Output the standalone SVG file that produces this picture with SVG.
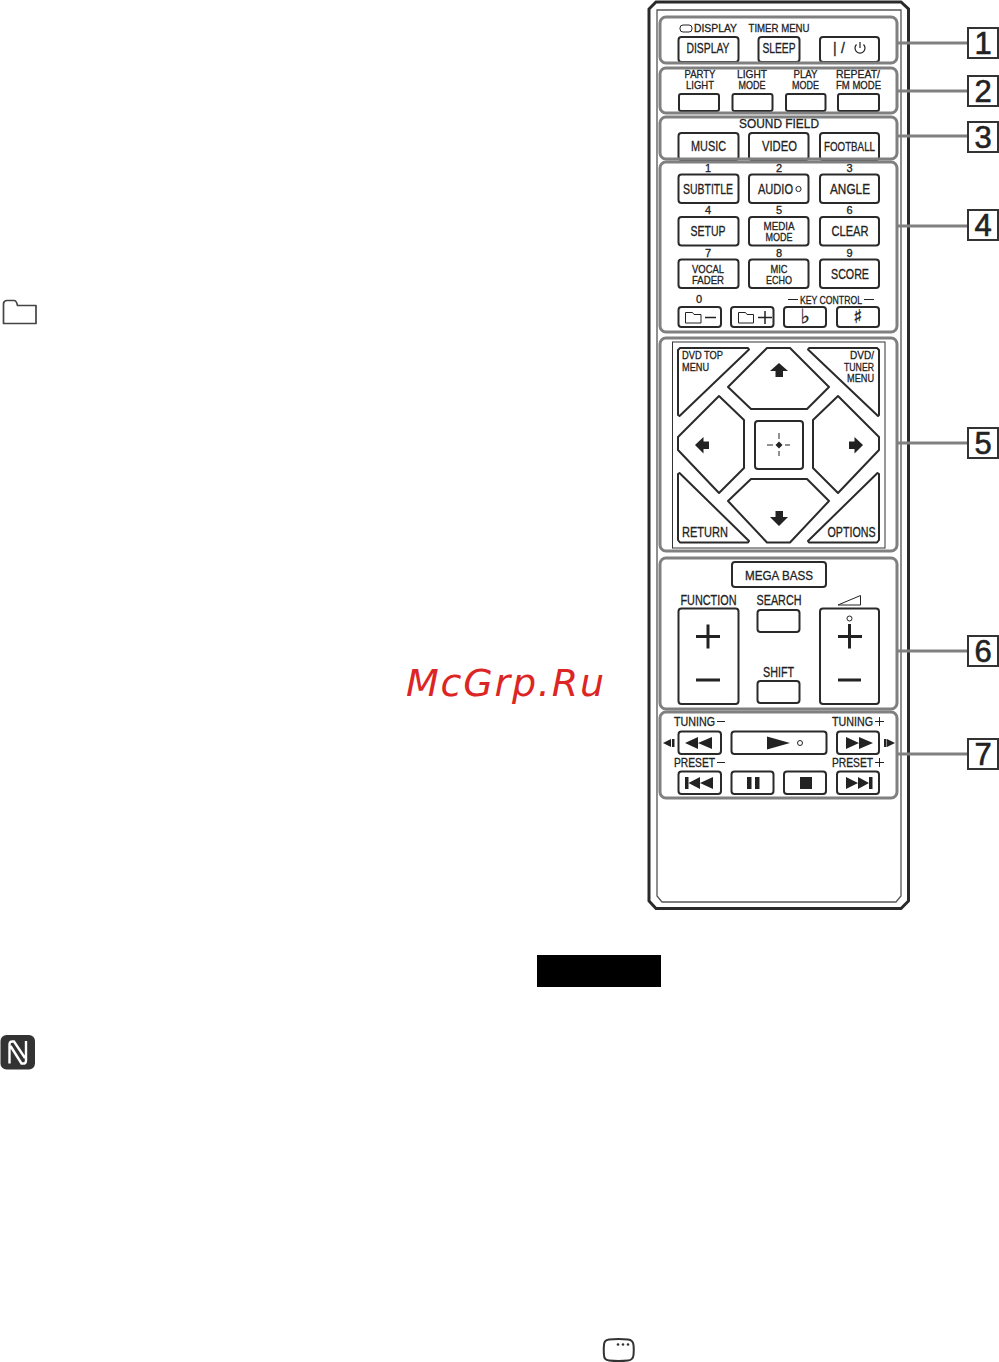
<svg xmlns="http://www.w3.org/2000/svg" width="999" height="1362" viewBox="0 0 999 1362">
<style>
text{font-family:"Liberation Sans",Arial,sans-serif;fill:#222;stroke:#222;stroke-width:.3;text-anchor:middle}
.s9{font-size:11px}.s12{font-size:13px}.s14{font-size:14px}
.l{text-anchor:start}.e{text-anchor:end}
.sec{fill:none;stroke:#808080;stroke-width:3}
.btn{fill:#fff;stroke:#2a2a2a;stroke-width:2;stroke-linejoin:round}
.ic{fill:#222;stroke:none}
.ln{fill:none;stroke:#222;stroke-width:1.500}
.thin{stroke-width:1}
.thick{stroke-width:3}
.conn{stroke:#808080;stroke-width:3}
.box{fill:#fff;stroke:#333;stroke-width:2}
.num{font-size:31px;stroke-width:.6}
.sym{font-family:"DejaVu Sans",sans-serif}
</style>
<rect id="black-bar" x="537" y="955" width="124" height="32" fill="#000"/>
<g id="folder-icon"><path d="M3.500 323.500V303.500Q4 300.500 7 300.500H14Q16.500 300.500 17.500 305.500H36V323.500Z" fill="none" stroke="#444" stroke-width="1.700" stroke-linejoin="round"/></g>
<g id="nfc-icon"><rect x="0.500" y="1035" width="34.500" height="34.500" rx="6" fill="#333"/><path d="M9.500 1063.500V1044.500Q9.500 1041 13 1041.500H14L25 1058M26 1041V1060.500Q26 1064 22.500 1063.500H21.500L10.500 1046" fill="none" stroke="#fff" stroke-width="2.400"/></g>
<g id="menu-icon"><path d="M609 1339.500Q618.500 1338.500 628 1339.500Q633 1340 633.500 1345Q634 1350 633.500 1355Q633 1360 628 1360.500Q618.500 1361.500 609 1360.500Q604 1360 604 1355Q603.500 1350 604 1345Q604 1340 609 1339.500Z" fill="none" stroke="#333" stroke-width="2"/><circle cx="618" cy="1344.500" r="1.300" fill="#333"/><circle cx="623" cy="1344.500" r="1.300" fill="#333"/><circle cx="628" cy="1344.500" r="1.300" fill="#333"/></g>
<g id="remote-body">
<path d="M656 2H901L908.500 9V901L901 908.500H656L649 901V9Z" fill="#fff" stroke="#2a2a2a" stroke-width="3"/>
<path d="M657 10H901V896L896 902H662L657 896Z" fill="none" stroke="#555" stroke-width="1.300"/>
</g>
<g id="connectors">
<line class="conn" x1="897" y1="43" x2="968" y2="43"/>
<line class="conn" x1="897" y1="91" x2="968" y2="91"/>
<line class="conn" x1="897" y1="136" x2="968" y2="136"/>
<line class="conn" x1="897" y1="226" x2="968" y2="226"/>
<line class="conn" x1="897" y1="443" x2="968" y2="443"/>
<line class="conn" x1="897" y1="651" x2="968" y2="651"/>
<line class="conn" x1="897" y1="754" x2="968" y2="754"/>
</g>
<g id="callout-1"><rect class="box" x="968" y="28" width="30" height="30"/><text class="num" x="983" y="54">1</text></g>
<g id="callout-2"><rect class="box" x="968" y="76" width="30" height="30"/><text class="num" x="983" y="102">2</text></g>
<g id="callout-3"><rect class="box" x="968" y="122" width="30" height="30"/><text class="num" x="983" y="148">3</text></g>
<g id="callout-4"><rect class="box" x="968" y="210" width="30" height="30"/><text class="num" x="983" y="236">4</text></g>
<g id="callout-5"><rect class="box" x="968" y="428" width="30" height="30"/><text class="num" x="983" y="454">5</text></g>
<g id="callout-6"><rect class="box" x="968" y="636" width="30" height="30"/><text class="num" x="983" y="662">6</text></g>
<g id="callout-7"><rect class="box" x="968" y="739" width="30" height="30"/><text class="num" x="983" y="765">7</text></g>

<g id="section-1">
<rect class="btn" x="678.500" y="37" width="60" height="25" rx="3"/><rect class="btn" x="758.500" y="37" width="41" height="25" rx="3"/><rect class="btn" x="820" y="37" width="59" height="25" rx="3"/>
<rect x="680" y="25" width="12" height="7" rx="3" fill="none" stroke="#222" stroke-width="1"/>
<text class="s9" x="715.500" y="32" textLength="43" lengthAdjust="spacingAndGlyphs">DISPLAY</text>
<text class="s9" x="779" y="32" textLength="61" lengthAdjust="spacingAndGlyphs">TIMER MENU</text>
<text class="s14" x="708" y="53" textLength="43" lengthAdjust="spacingAndGlyphs">DISPLAY</text>
<text class="s14" x="779" y="53" textLength="33" lengthAdjust="spacingAndGlyphs">SLEEP</text>
<text class="s14" x="839" y="53" textLength="12">| /</text>
<path d="M856.500 44.500A5 5 0 1 0 863.500 44.500M860 42V48" fill="none" stroke="#222" stroke-width="1.200"/>
<rect class="sec" x="660" y="17" width="237" height="46" rx="6"/>
</g>
<g id="section-2">
<rect class="btn" x="679" y="94" width="40" height="17" rx="2"/><rect class="btn" x="732.500" y="94" width="40" height="17" rx="2"/><rect class="btn" x="786" y="94" width="39.500" height="17" rx="2"/><rect class="btn" x="838" y="94" width="41" height="17" rx="2"/>
<text class="s9" x="700" y="78" textLength="31" lengthAdjust="spacingAndGlyphs">PARTY</text><text class="s9" x="700" y="89" textLength="28" lengthAdjust="spacingAndGlyphs">LIGHT</text>
<text class="s9" x="752" y="78" textLength="30" lengthAdjust="spacingAndGlyphs">LIGHT</text><text class="s9" x="752" y="89" textLength="27" lengthAdjust="spacingAndGlyphs">MODE</text>
<text class="s9" x="805.500" y="78" textLength="24" lengthAdjust="spacingAndGlyphs">PLAY</text><text class="s9" x="805.500" y="89" textLength="27" lengthAdjust="spacingAndGlyphs">MODE</text>
<text class="s9" x="858" y="78" textLength="44" lengthAdjust="spacingAndGlyphs">REPEAT/</text><text class="s9" x="858.500" y="89" textLength="45" lengthAdjust="spacingAndGlyphs">FM MODE</text>
<rect class="sec" x="660" y="68" width="237" height="45" rx="6"/>
</g>
<g id="section-3">
<rect class="btn" x="678.500" y="133" width="60" height="27" rx="3"/><rect class="btn" x="749" y="133" width="59.500" height="27" rx="3"/><rect class="btn" x="820" y="133" width="59" height="27" rx="3"/>
<text class="s12" x="779" y="128" textLength="80" lengthAdjust="spacingAndGlyphs">SOUND FIELD</text>
<text class="s14" x="708.500" y="151" textLength="35" lengthAdjust="spacingAndGlyphs">MUSIC</text>
<text class="s14" x="779.500" y="151" textLength="35" lengthAdjust="spacingAndGlyphs">VIDEO</text>
<text class="s12" x="849.500" y="151" textLength="51" lengthAdjust="spacingAndGlyphs">FOOTBALL</text>
<rect class="sec" x="660" y="117" width="237" height="42" rx="6"/>
</g>
<g id="section-4">
<rect class="btn" x="678.500" y="174.500" width="60" height="28.500" rx="3"/><rect class="btn" x="749" y="174.500" width="59.500" height="28.500" rx="3"/><rect class="btn" x="820" y="174.500" width="59" height="28.500" rx="3"/>
<rect class="btn" x="678.500" y="217" width="60" height="28.500" rx="3"/><rect class="btn" x="749" y="217" width="59.500" height="28.500" rx="3"/><rect class="btn" x="820" y="217" width="59" height="28.500" rx="3"/>
<rect class="btn" x="678.500" y="259.500" width="60" height="28.500" rx="3"/><rect class="btn" x="749" y="259.500" width="59.500" height="28.500" rx="3"/><rect class="btn" x="820" y="259.500" width="59" height="28.500" rx="3"/>
<rect class="btn" x="678.500" y="307" width="42.500" height="20" rx="3"/><rect class="btn" x="731" y="307" width="42.500" height="20" rx="3"/><rect class="btn" x="784" y="307" width="42" height="20" rx="3"/><rect class="btn" x="837" y="307" width="42" height="20" rx="3"/>
<text class="s9" x="708" y="172">1</text><text class="s9" x="779" y="172">2</text><text class="s9" x="849.500" y="172">3</text>
<text class="s9" x="708" y="214">4</text><text class="s9" x="779" y="214">5</text><text class="s9" x="849.500" y="214">6</text>
<text class="s9" x="708" y="257">7</text><text class="s9" x="779" y="257">8</text><text class="s9" x="849.500" y="257">9</text>
<text class="s14" x="708" y="193.500" textLength="50" lengthAdjust="spacingAndGlyphs">SUBTITLE</text>
<text class="s14" x="775.500" y="193.500" textLength="35" lengthAdjust="spacingAndGlyphs">AUDIO</text><circle cx="798.500" cy="189" r="2.600" fill="none" stroke="#222" stroke-width="1"/>
<text class="s14" x="850" y="193.500" textLength="40" lengthAdjust="spacingAndGlyphs">ANGLE</text>
<text class="s14" x="708" y="236" textLength="35" lengthAdjust="spacingAndGlyphs">SETUP</text>
<text class="s9" x="779" y="229.500" textLength="31" lengthAdjust="spacingAndGlyphs">MEDIA</text><text class="s9" x="779" y="240.500" textLength="27" lengthAdjust="spacingAndGlyphs">MODE</text>
<text class="s14" x="850" y="236" textLength="37" lengthAdjust="spacingAndGlyphs">CLEAR</text>
<text class="s9" x="708" y="272.500" textLength="32" lengthAdjust="spacingAndGlyphs">VOCAL</text><text class="s9" x="708" y="284" textLength="32" lengthAdjust="spacingAndGlyphs">FADER</text>
<text class="s9" x="779" y="272.500" textLength="17" lengthAdjust="spacingAndGlyphs">MIC</text><text class="s9" x="779" y="283.500" textLength="26" lengthAdjust="spacingAndGlyphs">ECHO</text>
<text class="s14" x="850" y="278.500" textLength="38" lengthAdjust="spacingAndGlyphs">SCORE</text>
<text class="s9" x="699" y="303">0</text>
<text class="s9" x="831" y="303.500" textLength="62" lengthAdjust="spacingAndGlyphs">KEY CONTROL</text>
<path class="ln thin" d="M788 299.500H798M864 299.500H874"/>
<path class="ln thin" d="M685.500 323V312.500H692.500L694 314.500H701V323ZM738.500 323V312.500H745.500L747 314.500H753.500V323Z"/>
<path class="ln" d="M705 317.500H716M758 317.500H772M765 311V324"/>
<text class="sym" x="805" y="323" font-size="20">♭</text><text class="sym" x="857.500" y="323" font-size="19">♯</text>
<rect class="sec" x="660" y="162" width="237" height="170" rx="6"/>
</g>
<g id="section-5">
<rect x="672.500" y="342" width="212.500" height="206" fill="none" stroke="#333" stroke-width="1"/>
<path class="btn" d="M680 348H748L749 349.500L679.500 416L678 415V350Z"/>
<path class="btn" d="M767 348H790L829 387L807 409H751L728 387Z"/>
<path class="btn" d="M809 348H877L879 350V415L878 416L808 349.500Z"/>
<path class="btn" d="M719 396L744 420V468L719 493L678 450V437Z"/>
<path class="btn" d="M838 396L879 437V450L838 493L813 468V420Z"/>
<rect class="btn" x="755" y="421" width="48" height="48" rx="3"/>
<path class="btn" d="M678 474L679.500 473L749 541L748 542.500H680L678 540Z"/>
<path class="btn" d="M751 479H807L829 501L790 542.500H767L728 501Z"/>
<path class="btn" d="M879 474L877.500 473L808 541L809 542.500H877L879 540Z"/>
<path class="ic" d="M779 363L788 371H783V377H775.500V371H770Z"/>
<path class="ic" d="M779 526L788 517H783V511H775.500V517H770Z"/>
<path class="ic" d="M695 445L703.500 437V441.500H709V449H703.500V453.500Z"/>
<path class="ic" d="M863 445L854.500 437V441.500H849V449H854.500V453.500Z"/>
<path class="ic" d="M779 441.500L782.500 445L779 448.500L775.500 445Z"/>
<path class="ln thin" d="M767 445H773M785 445H790M779 433V439M779 451V456"/>
<text class="s9 l" x="682" y="359" textLength="41" lengthAdjust="spacingAndGlyphs">DVD TOP</text><text class="s9 l" x="682" y="371" textLength="27" lengthAdjust="spacingAndGlyphs">MENU</text>
<text class="s9 e" x="874" y="359" textLength="24" lengthAdjust="spacingAndGlyphs">DVD/</text><text class="s9 e" x="874" y="371" textLength="30" lengthAdjust="spacingAndGlyphs">TUNER</text><text class="s9 e" x="874" y="382" textLength="27" lengthAdjust="spacingAndGlyphs">MENU</text>
<text class="s14 l" x="682" y="537" textLength="46" lengthAdjust="spacingAndGlyphs">RETURN</text>
<text class="s14 e" x="875.500" y="537" textLength="48" lengthAdjust="spacingAndGlyphs">OPTIONS</text>
<rect class="sec" x="660" y="338" width="237" height="213" rx="6"/>
</g>
<g id="section-6">
<rect class="btn" x="732" y="562" width="94" height="25" rx="3"/>
<rect class="btn" x="678.500" y="608.500" width="60" height="95.500" rx="3"/><rect class="btn" x="820" y="608.500" width="59" height="95.500" rx="3"/>
<rect class="btn" x="757.500" y="610" width="42" height="22" rx="3"/><rect class="btn" x="757.500" y="681" width="42" height="22" rx="3"/>
<text class="s12" x="779" y="579.500" textLength="68" lengthAdjust="spacingAndGlyphs">MEGA BASS</text>
<text class="s14" x="708.500" y="604.500" textLength="56" lengthAdjust="spacingAndGlyphs">FUNCTION</text>
<text class="s14" x="779" y="604.500" textLength="45" lengthAdjust="spacingAndGlyphs">SEARCH</text>
<text class="s14" x="778.500" y="677" textLength="31" lengthAdjust="spacingAndGlyphs">SHIFT</text>
<path class="ln thick" d="M696 636.500H720M708 624.500V648.500M696 680H720M838 636.500H862M849.500 624V648.500M838 680H861"/>
<circle cx="849.500" cy="618.500" r="2.500" fill="none" stroke="#222" stroke-width="1"/>
<path class="ln thin" d="M838 605L860.500 595.500V605Z"/>
<rect class="sec" x="660" y="558" width="237" height="151" rx="6"/>
</g>
<g id="section-7">
<rect class="btn" x="678.500" y="731.500" width="42.500" height="22.500" rx="3"/><rect class="btn" x="731.500" y="731.500" width="95" height="22.500" rx="3"/><rect class="btn" x="837" y="731.500" width="42" height="22.500" rx="3"/>
<rect class="btn" x="678.500" y="771.500" width="42.500" height="22.500" rx="3"/><rect class="btn" x="731.500" y="771.500" width="42" height="22.500" rx="3"/><rect class="btn" x="784" y="771.500" width="42" height="22.500" rx="3"/><rect class="btn" x="837" y="771.500" width="42" height="22.500" rx="3"/>
<text class="s12 l" x="674" y="726" textLength="41" lengthAdjust="spacingAndGlyphs">TUNING</text><text class="s12 l" x="832" y="726" textLength="41" lengthAdjust="spacingAndGlyphs">TUNING</text>
<text class="s12 l" x="674" y="767" textLength="41" lengthAdjust="spacingAndGlyphs">PRESET</text><text class="s12 l" x="832" y="767" textLength="41" lengthAdjust="spacingAndGlyphs">PRESET</text>
<path class="ln thin" d="M717 721.500H725M717 762.500H725M875 721.500H884M879.500 717V726M875 762.500H884M879.500 758V767"/>
<path class="ic" d="M685 743L698 737V749ZM698 743L712 737V749Z"/>
<path class="ic" d="M846 737L859 743L846 749ZM859 737L873 743L859 749Z"/>
<path class="ic" d="M767 736.500L790 743L767 749.500Z"/><circle cx="800" cy="743" r="2.500" fill="none" stroke="#222" stroke-width="1"/>
<path class="ic" d="M663 743L671 739V747ZM672 739H674.500V747H672ZM884 739H886.500V747H884ZM887 739L895 743L887 747Z"/>
<path class="ic" d="M685 777H688.500V789H685ZM688.500 783L700 777V789ZM700 783L713 777V789Z"/>
<path class="ic" d="M747 777H751.500V789H747ZM755 777H759.500V789H755ZM800 777H812V789H800Z"/>
<path class="ic" d="M846 777L858 783L846 789ZM858 777L869 783L858 789ZM869 777H872.500V789H869Z"/>
<rect class="sec" x="660" y="712" width="237" height="86" rx="6"/>
</g>
<text id="watermark" x="505" y="696" font-size="38" font-style="italic" textLength="198" style="font-family:'DejaVu Sans',sans-serif;fill:#dc2626;stroke:none">McGrp.Ru</text>
</svg>
